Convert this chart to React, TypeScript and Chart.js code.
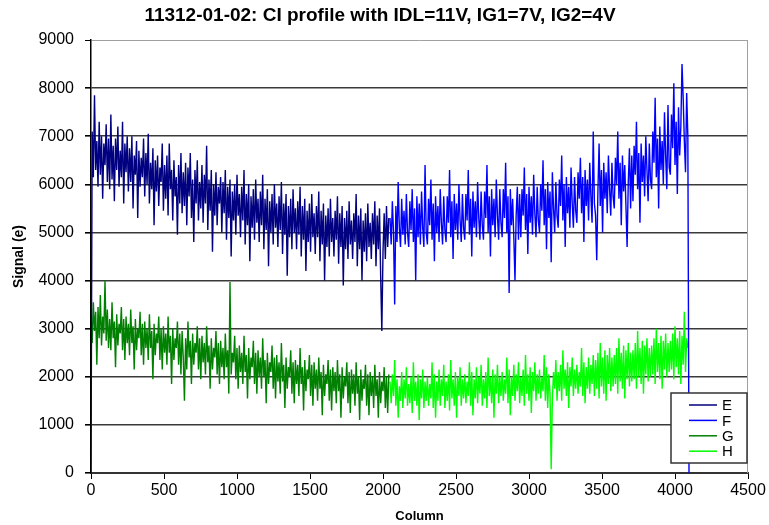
import React, { useEffect, useRef } from "react";
import { Chart, registerables } from "chart.js";

Chart.register(...registerables);

const TITLE = "11312-01-02: CI profile with IDL=11V, IG1=7V, IG2=4V";
const X_TITLE = "Column";
const Y_TITLE = "Signal (e)";
const X_MIN = 0;
const X_MAX = 4500;
const X_STEP = 500;
const Y_MIN = 0;
const Y_MAX = 9000;
const Y_STEP = 1000;

// sampling grid (columns) for the hand-read values
const COL_STEP = 8;
const LEFT_START_COL = 0;
const RIGHT_START_COL = 2048;

const SERIES_LABELS = ["E", "F", "G", "H"];
const SERIES_COLORS = ["#000080", "#0000ff", "#008000", "#00ff00"];

const E_VALUES = [
  0, 7100, 6150, 7850, 6300, 6900, 5950, 7300, 6200, 7000, 5700, 6850, 6400, 7250, 6050, 6950,
  5900, 7450, 6100, 6800, 5650, 6950, 6300, 7200, 5950, 6700, 6150, 7300, 5600, 6850, 6250, 7000,
  5850, 6750, 6050, 7000, 5500, 6600, 6200, 6900, 5300, 6700, 5950, 6550, 6150, 6950, 5750, 6650,
  6000, 7050, 5600, 6450, 5900, 6750, 5150, 6500, 5850, 6600, 5550, 6350, 6050, 6850, 5450, 6400,
  5700, 6600, 5350, 6850, 5900, 6300, 5250, 6500, 5750, 6150, 4950, 6400, 5600, 6650, 5400, 6250,
  5550, 6450, 5150, 6350, 5750, 6650, 5300, 6100, 4800, 6300, 5600, 6500, 5250, 6050, 5500, 6400,
  5200, 6200, 5600, 6800, 5050, 6100, 5450, 6300, 4600, 6000, 5350, 6250, 5150, 5950, 5600, 6150,
  5000, 6050, 5400, 6300, 4850, 5950, 5300, 6100, 4500, 5850, 5250, 6000, 4950, 6200, 5350, 5800,
  4900, 5950, 5250, 6300, 4750, 5800, 5150, 6000, 4400, 5750, 5100, 5900, 4850, 6100, 5200, 5700,
  4800, 5850, 5150, 6200, 4650, 5700, 5050, 5900, 4300, 5650, 5000, 5800, 4750, 6000, 5100, 5600,
  4700, 5750, 5050, 6050, 4550, 5600, 4950, 5800, 4100, 5550, 4900, 5700, 4650, 5900, 5000, 5500,
  4650, 5650, 4950, 5950, 4500, 5550, 4850, 5700, 4200, 5450, 4800, 5600, 4600, 5800, 4900, 5400,
  4550, 5550, 4900, 5850, 4400, 5450, 4750, 5600, 4000, 5350, 4700, 5500, 4500, 5700, 4800, 5300,
  4500, 5450, 4850, 5750, 4350, 5400, 4700, 5550, 3900, 5300, 4650, 5450, 4450, 5650, 4750, 5250,
  4450, 5400, 4800, 5800, 4300, 5350, 4650, 5500, 4000, 5250, 4600, 5400, 4400, 5600, 4700, 5200,
  4450, 5400, 4750, 5650, 4300, 5350, 4650, 5500, 4100, 2950, 4600, 5400, 4450, 5550, 4700, 5300,
];

const F_VALUES = [
  5300, 4750, 5650, 5000, 3500, 5550, 4800, 6050, 5100, 4700, 5700, 4950, 5450, 4750, 5800, 5000,
  4700, 5650, 5050, 5900, 4800, 5500, 4000, 5750, 4900, 5600, 4750, 5850, 5100, 4700, 6400, 5000,
  4750, 5700, 5150, 6100, 4850, 5600, 4400, 5750, 5000, 5550, 4800, 5900, 5200, 4750, 5750, 5050,
  4800, 5750, 5200, 6300, 4900, 5650, 4450, 5800, 5050, 5600, 4850, 6000, 5250, 4800, 5800, 5100,
  4850, 5800, 5250, 6300, 4950, 5700, 4500, 5850, 5100, 5650, 4900, 6050, 5300, 4850, 5850, 5150,
  4850, 5850, 5300, 6400, 5000, 5750, 4500, 5900, 5150, 5700, 4900, 6100, 5350, 4850, 5900, 5200,
  4900, 5900, 5300, 6450, 5000, 5750, 3740, 5900, 5150, 5700, 4900, 4000, 5350, 5950, 4850, 5800,
  4900, 5900, 5350, 6350, 5050, 5800, 4550, 5950, 5200, 5750, 4950, 6200, 5400, 4900, 5950, 5250,
  5000, 6000, 5450, 6500, 5150, 5900, 4650, 6050, 5300, 5850, 4380, 6250, 5500, 5000, 6050, 5350,
  5100, 6100, 5550, 6600, 5250, 6000, 4700, 6150, 5400, 5950, 5100, 6350, 5600, 5100, 6150, 5450,
  5200, 6250, 5700, 6550, 5400, 6150, 4800, 6300, 5550, 6100, 5250, 6450, 5750, 5200, 7100, 5600,
  5350, 4420, 5850, 6850, 5550, 6300, 5000, 6450, 5700, 6250, 5400, 6600, 5900, 5350, 6450, 5750,
  5500, 6550, 6000, 7100, 5700, 6450, 5150, 6600, 5850, 6400, 5550, 4700, 6050, 6750, 5500, 6600,
  5650, 6800, 6200, 7300, 5900, 6650, 5200, 6850, 6050, 6600, 5750, 7000, 6300, 5650, 6850, 6100,
  5900, 7100, 6450, 7800, 6150, 6950, 5500, 7200, 6300, 6900, 6000, 7500, 6600, 5900, 7650, 6350,
  6200, 7450, 6750, 8100, 6400, 7300, 5800, 7600, 6600, 7200, 8500, 7800, 6900, 6250, 7900, 7000,
  0,
];

const G_VALUES = [
  3300, 2700, 3550, 2950, 3350, 2250, 3450, 2800, 3700, 2650, 3250, 2900, 4000, 2750, 3400, 2600,
  3200, 2550, 3550, 2800, 3150, 2200, 3300, 2650, 3100, 2900, 3450, 2550, 3200, 2350, 3250, 2700,
  3100, 2450, 3400, 2700, 3050, 2150, 3200, 2550, 3000, 2800, 3350, 2450, 3100, 2250, 3150, 2600,
  3000, 2350, 3300, 2600, 2950, 1950, 3100, 2450, 2900, 2700, 3250, 2350, 3000, 2150, 3050, 2500,
  2900, 2250, 3250, 2500, 2850, 1850, 3000, 2350, 2800, 2600, 3150, 2250, 2900, 2050, 2950, 2400,
  1500, 2800, 2150, 3150, 2400, 2750, 1850, 2900, 2250, 2700, 2500, 3050, 2150, 2800, 1950, 2850,
  2300, 2700, 2050, 3050, 2300, 2650, 1750, 2800, 2150, 2600, 2400, 2950, 2050, 2700, 1850, 2750,
  2200, 2600, 1950, 2900, 2200, 2550, 1650, 3970, 2050, 2500, 2300, 2850, 1950, 2600, 1750, 2650,
  2100, 2500, 1850, 2850, 2100, 2450, 1550, 2600, 1950, 2400, 2200, 2750, 1850, 2500, 1650, 2550,
  2000, 2400, 1750, 2800, 2000, 2350, 1450, 2500, 1850, 2300, 2100, 2650, 1750, 2400, 1550, 2450,
  1900, 2300, 1650, 2700, 1900, 2250, 1350, 2400, 1750, 2200, 2000, 2550, 1650, 2300, 1450, 2350,
  1850, 2250, 1600, 2600, 1850, 2200, 1300, 2350, 1700, 2150, 1950, 2450, 1600, 2250, 1400, 2300,
  1750, 2150, 1500, 2400, 1750, 2100, 1200, 2250, 1600, 2050, 1850, 2350, 1500, 2150, 1300, 2200,
  1700, 2100, 1450, 2350, 1700, 2050, 1150, 2200, 1550, 2000, 1800, 2300, 1450, 2100, 1250, 2150,
  1650, 2050, 1400, 2300, 1650, 2000, 1100, 2150, 1500, 1950, 1750, 2250, 1400, 2050, 1200, 2100,
  1600, 2000, 1350, 2250, 1600, 1950, 1150, 2100, 1450, 1900, 1700, 2200, 1350, 2000, 1250, 2050,
];

const H_VALUES = [
  1900, 1450, 2050, 1600, 2350, 1400, 1950, 1150, 1800, 1500, 2100, 1350, 1950, 1550, 2200, 1400,
  1850, 1450, 2000, 1250, 2300, 1500, 1900, 1400, 2050, 1100, 1950, 1550, 2150, 1350, 1900, 1500,
  2000, 1400, 1850, 1550, 2300, 1350, 2050, 1150, 1900, 1500, 2150, 1400, 1950, 1600, 2250, 1350,
  1900, 1500, 2050, 1300, 2350, 1550, 1950, 1400, 2100, 1150, 2000, 1600, 2200, 1400, 1950, 1550,
  2050, 1450, 1900, 1600, 2300, 1400, 2100, 1200, 1950, 1550, 2200, 1450, 2000, 1650, 2250, 1400,
  1950, 1550, 2100, 1350, 2400, 1600, 2000, 1450, 2150, 1150, 2050, 1650, 2250, 1450, 2000, 1600,
  2100, 1500, 1950, 1650, 2400, 1450, 2150, 1200, 2000, 1600, 2250, 1500, 2050, 1700, 2300, 1450,
  2000, 1600, 2150, 1400, 2450, 1650, 2050, 1500, 2200, 1250, 2100, 1700, 2300, 1500, 2050, 1650,
  2150, 1550, 2000, 1700, 2450, 1500, 2200, 1350, 2050, 1650, 80, 1550, 2100, 1750, 2350, 1500,
  2100, 1700, 2250, 1500, 2550, 1750, 2150, 1600, 2300, 1350, 2200, 1800, 2400, 1600, 2150, 1750,
  2250, 1650, 2100, 1800, 2600, 1600, 2300, 1450, 2200, 1750, 2400, 1650, 2250, 1850, 2450, 1600,
  2350, 1750, 2500, 1550, 2700, 1800, 2400, 1650, 2550, 1500, 2450, 1850, 2600, 1700, 2400, 1800,
  2450, 1850, 2600, 1650, 2800, 1900, 2500, 1750, 2650, 1550, 2550, 1950, 2700, 1800, 2500, 1900,
  2550, 1950, 2700, 1750, 2950, 2000, 2600, 1850, 2750, 1650, 2650, 2050, 2800, 1900, 2600, 2000,
  2650, 2050, 2800, 1850, 3000, 2100, 2700, 1950, 2850, 1750, 2750, 2150, 2900, 2000, 2700, 2100,
  2750, 2150, 2900, 1950, 3050, 2200, 2800, 2050, 2950, 1850, 2850, 2250, 3350, 2100, 2800, 2600,
];

const toPoints = (startCol: number, values: number[]) =>
  values.map((v, i) => ({ x: startCol + i * COL_STEP, y: v }));

const SERIES = [
  toPoints(LEFT_START_COL, E_VALUES),
  toPoints(RIGHT_START_COL, F_VALUES),
  toPoints(LEFT_START_COL, G_VALUES),
  toPoints(RIGHT_START_COL, H_VALUES),
];

const FONT = "Arial, 'Liberation Sans', sans-serif";

const frameAndLegend = {
  id: "frameAndLegend",
  afterDatasetsDraw(chart: any) {
    const { ctx, chartArea } = chart;
    ctx.save();
    ctx.strokeStyle = "#a0a0a0";
    ctx.lineWidth = 1;
    ctx.beginPath();
    ctx.moveTo(chartArea.right - 0.5, chartArea.top);
    ctx.lineTo(chartArea.right - 0.5, chartArea.bottom);
    ctx.stroke();

    const w = 76;
    const h = 70;
    const x1 = chartArea.right - w - 1;
    const y1 = chartArea.bottom - h - 10;
    ctx.fillStyle = "#ffffff";
    ctx.fillRect(x1, y1, w, h);
    ctx.strokeStyle = "#333333";
    ctx.lineWidth = 1.5;
    ctx.strokeRect(x1, y1, w, h);
    ctx.font = `15px ${FONT}`;
    ctx.textBaseline = "middle";
    ctx.textAlign = "left";
    chart.data.datasets.forEach((ds: any, i: number) => {
      const y = y1 + 12 + i * 15.4;
      ctx.strokeStyle = ds.borderColor;
      ctx.lineWidth = 1.5;
      ctx.beginPath();
      ctx.moveTo(x1 + 18, y);
      ctx.lineTo(x1 + 46, y);
      ctx.stroke();
      ctx.fillStyle = "#000";
      ctx.fillText(ds.label, x1 + 51, y + 1);
    });
    ctx.restore();
  },
};

export default function App() {
  const ref = useRef<HTMLCanvasElement | null>(null);
  useEffect(() => {
    if (!ref.current) return;
    const chart = new Chart(ref.current, {
      type: "line",
      data: {
        datasets: SERIES.map((pts, i) => ({
          label: SERIES_LABELS[i],
          data: pts,
          borderColor: SERIES_COLORS[i],
          backgroundColor: SERIES_COLORS[i],
          borderWidth: 1.4,
          pointRadius: 0,
          pointHoverRadius: 0,
          tension: 0,
          fill: false,
        })),
      },
      options: {
        responsive: false,
        animation: false,
        events: [],
        layout: { padding: { left: 12, right: 21, top: 0, bottom: 0 } },
        plugins: {
          legend: { display: false },
          tooltip: { enabled: false },
          title: {
            display: true,
            text: TITLE,
            color: "#000",
            font: { family: FONT, size: 19, weight: "bold", lineHeight: 1.2 },
            padding: { top: 4, bottom: 13.2 },
          },
        },
        scales: {
          x: {
            type: "linear",
            min: X_MIN,
            max: X_MAX,
            afterFit: (s: any) => {
              s.height = 52;
            },
            ticks: {
              stepSize: X_STEP,
              color: "#000",
              font: { family: FONT, size: 16 },
              padding: 2,
              maxRotation: 0,
              callback: (v: any) => String(v),
            },
            grid: {
              drawOnChartArea: false,
              drawTicks: true,
              tickLength: 6,
              tickColor: "#000",
            },
            border: { display: true, color: "#333", width: 2 },
            title: {
              display: true,
              text: X_TITLE,
              color: "#000",
              font: { family: FONT, size: 13, weight: "bold" },
              padding: { top: 0, bottom: 1 },
            },
          },
          y: {
            type: "linear",
            min: Y_MIN,
            max: Y_MAX,
            afterFit: (s: any) => {
              s.width = 79;
            },
            ticks: {
              stepSize: Y_STEP,
              color: "#000",
              font: { family: FONT, size: 16 },
              padding: 11,
              callback: (v: any) => String(v),
            },
            grid: {
              drawTicks: true,
              tickLength: 6,
              tickColor: "#000",
              color: (c: any) => (c.tick && c.tick.value === Y_MAX ? "#a0a0a0" : "#3a3a3a"),
              lineWidth: (c: any) => (c.tick && c.tick.value === Y_MAX ? 1 : 1.6),
            },
            border: { display: true, color: "#000", width: 1.5 },
            title: {
              display: true,
              text: Y_TITLE,
              color: "#000",
              font: { family: FONT, size: 14, weight: "bold" },
              padding: { top: -1, bottom: 0 },
            },
          },
        },
      },
      plugins: [frameAndLegend],
    } as any);
    return () => chart.destroy();
  }, []);

  return (
    <div style={{ position: "absolute", left: 0, top: 0, width: 769, height: 525, background: "#fff" }}>
      <canvas ref={ref} width={769} height={525} style={{ display: "block" }} />
    </div>
  );
}
